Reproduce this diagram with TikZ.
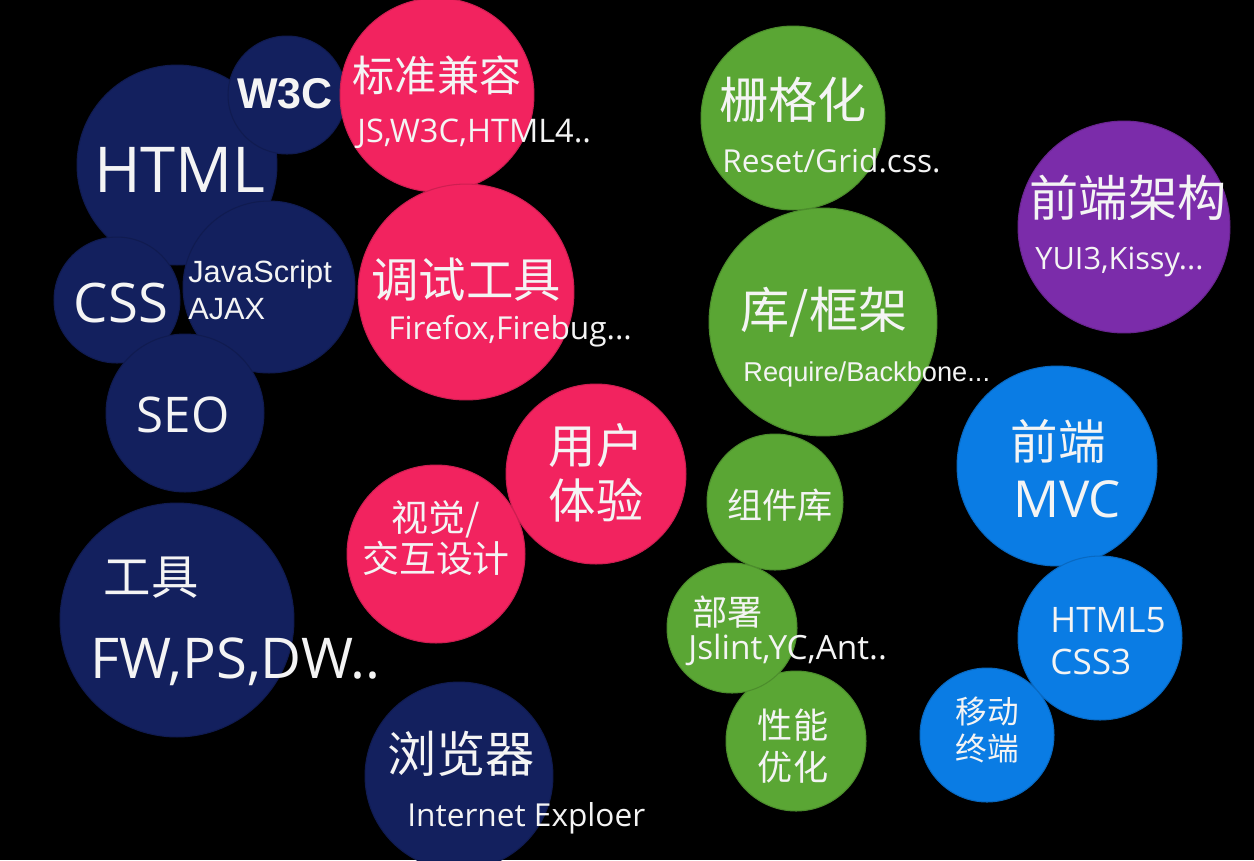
\documentclass[tikz,border=0pt]{standalone}
\usepackage{fontspec}
\setmainfont{Open Sans}
\newfontfamily\cjk{Noto Sans CJK SC}
\newfontfamily\arialfont{Liberation Sans}
\usetikzlibrary{positioning}
\definecolor{navy}{HTML}{13205E}
\definecolor{rose}{HTML}{F2235F}
\definecolor{leaf}{HTML}{5AA634}
\definecolor{plum}{HTML}{7B2CAA}
\definecolor{sky}{HTML}{0A7CE4}
\definecolor{chalk}{HTML}{F4F4F4}
\newcommand\sz[2]{\fontsize{#1}{#2}\selectfont}

\begin{document}
\begin{tikzpicture}[x=0.02cm,y=-0.02cm,
  bubble/.style={circle,inner sep=0pt,fill=#1,draw=#1!85!black,line width=0.6pt},
  rad/.style={minimum size={#1*0.04cm}},
  txt/.style={text=chalk,inner sep=0pt}]
  \useasboundingbox (0,0) rectangle (1254,860);
  \clip (0,0) rectangle (1254,860);
  \fill[black] (0,0) rectangle (1254,860);

  % navy: basics
  \node[bubble=navy,rad=100] (html) at (177,165) {};
  \node[bubble=navy,rad=63] (css) at (117,300) {};
  \node[bubble=navy,rad=86] (jsx) at (269,287) {};
  \node[bubble=navy,rad=59] (w3c) at (287,95) {};
  \node[bubble=navy,rad=79] (seo) at (185,413) {};
  \node[bubble=navy,rad=117] (tool) at (177,620) {};
  \node[bubble=navy,rad=94] (brow) at (459,776) {};
  % rose
  \node[bubble=rose,rad=97] (std) at (437,95) {};
  \node[bubble=rose,rad=108] (debug) at (466,292) {};
  \node[bubble=rose,rad=90] (ux) at (596,474) {};
  \node[bubble=rose,rad=89] (vis) at (436,554) {};
  % leaf
  \node[bubble=leaf,rad=92] (grid) at (793,118) {};
  \node[bubble=leaf,rad=114] (lib) at (823,322) {};
  \node[bubble=leaf,rad=68] (comp) at (775,502) {};
  \node[bubble=leaf,rad=70] (perf) at (796,741) {};
  \node[bubble=leaf,rad=65] (deploy) at (732,628) {};
  % plum / sky
  \node[bubble=plum,rad=106] (arch) at (1124,227) {};
  \node[bubble=sky,rad=100] (mvc) at (1057,466) {};
  \node[bubble=sky,rad=82] (h5) at (1100,638) {};
  \node[bubble=sky,rad=67] (mob) at (987,735) {};

  % labels
  \node[txt,font=\sz{36}{40}] (t-html) at (180,170) {HTML};
  \node[txt,font=\arialfont\bfseries\sz{24.5}{28}] (t-w3c) at (285,94) {W3C};
  \node[txt,anchor=west,align=left,font=\arialfont\sz{17.5}{20.5}] (t-jsx) at (188,290) {JavaScript\\AJAX};
  \node[txt,font=\sz{31}{34}] (t-css) at (121,303) {CSS};
  \node[txt,font=\sz{28}{32}] (t-seo) at (183,415) {SEO};
  \node[txt,font=\cjk\sz{27}{30}] (t-tool) at (151,578) {工具};
  \node[txt,anchor=west,font=\sz{32}{36}] (t-fw) at (90,662) {FW,PS,DW..};
  \node[txt,font=\cjk\sz{24}{28}] (t-std) at (437,75) {标准兼容};
  \node[txt,anchor=west,font=\sz{18.5}{22}] (t-js) at (357,134) {JS,W3C,HTML4..};
  \node[txt,font=\cjk\sz{27}{30}] (t-debug) at (466,280) {调试工具};
  \node[txt,anchor=west,font=\sz{18}{22}] (t-ff) at (388,331) {Firefox,Firebug...};
  \node[txt,align=center,font=\cjk\sz{27}{31}] (t-ux) at (596,473) {用户\\体验};
  \node[txt,align=center,font=\cjk\sz{21}{23.5}] (t-vis) at (436,538) {视觉/\\交互设计};
  \node[txt,font=\cjk\sz{28}{32}] (t-brow) at (461,754) {浏览器};
  \node[txt,anchor=west,font=\sz{18}{22}] (t-ie) at (407,818) {Internet Exploer};
  \node[txt,font=\cjk\sz{28}{32}] (t-grid) at (793,100) {栅格化};
  \node[txt,anchor=west,font=\sz{18}{22}] (t-reset) at (722,161) {Reset/Grid.css.};
  \node[txt,font=\cjk\sz{28}{32}] (t-arch) at (1128,198) {前端架构};
  \node[txt,anchor=west,font=\sz{17.5}{21}] (t-yui) at (1035,262) {YUI3,Kissy...};
  \node[txt,font=\cjk\sz{28}{32}] (t-lib) at (824,312) {库/框架};
  \node[txt,anchor=west,font=\arialfont\sz{15.5}{18}] (t-req) at (743,374) {Require/Backbone...};
  \node[txt,font=\cjk\sz{20}{23}] (t-comp) at (780,505) {组件库};
  \node[txt,anchor=west,font=\cjk\sz{20}{23}] (t-deploy) at (692,612) {部署};
  \node[txt,anchor=west,font=\sz{19}{22}] (t-lint) at (688,650) {Jslint,YC,Ant..};
  \node[txt,align=center,font=\cjk\sz{20}{24}] (t-perf) at (793,746) {性能\\优化};
  \node[txt,font=\cjk\sz{27}{30}] (t-fe) at (1058,441) {前端};
  \node[txt,font=\sz{29}{32}] (t-mvc) at (1067,499) {MVC};
  \node[txt,anchor=west,align=left,font=\sz{20}{23.5}] (t-h5) at (1050,641) {HTML5\\CSS3};
  \node[txt,align=center,font=\cjk\sz{18}{21}] (t-mob) at (987,730) {移动\\终端};
\end{tikzpicture}
\end{document}
